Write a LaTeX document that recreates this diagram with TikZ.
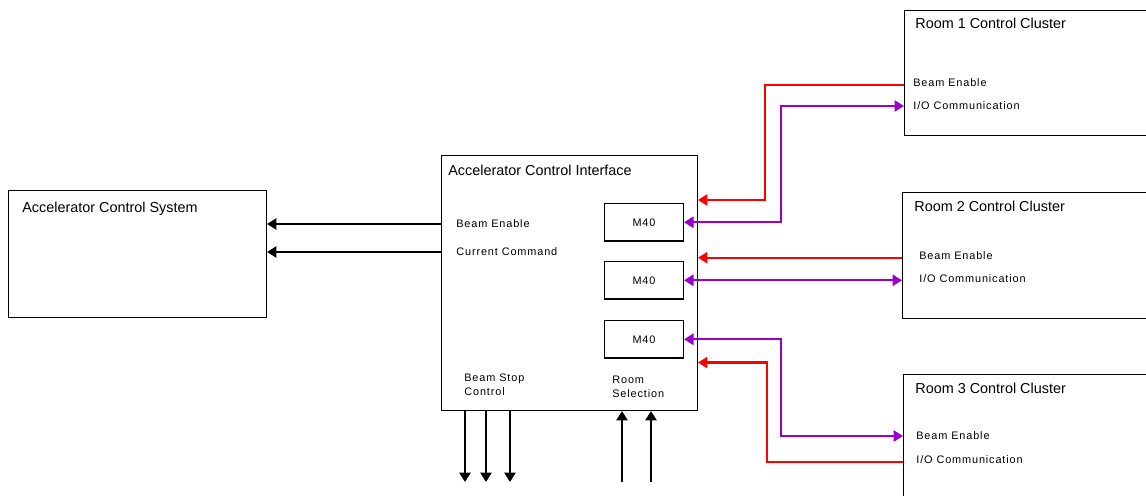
\documentclass[tikz,border=0pt]{standalone}
\usepackage{fontspec}
\setmainfont{Liberation Sans}
\newfontfamily\lblfont[LetterSpace=8]{Liberation Sans}
\usetikzlibrary{arrows.meta, positioning, calc}
\definecolor{cLine}{HTML}{000000}
\definecolor{cRed}{HTML}{FF0000}
\definecolor{cPurple}{HTML}{9900CC}

\begin{document}
\begin{tikzpicture}[
  x=0.02cm, y=-0.02cm,
  blk/.style={draw=cLine, line width=0.6pt, anchor=north west, inner sep=0pt},
  m40/.style={draw=cLine, line width=0.6pt, anchor=north west,
    minimum width=1.58cm, minimum height=0.75cm, inner sep=0pt,
    font=\lblfont\fontsize{6.2}{7.8}\selectfont},
  ttl/.style={anchor=base west, inner sep=0pt, font=\fontsize{8.2}{10}\selectfont},
  lbl/.style={anchor=west, inner sep=0pt, font=\lblfont\fontsize{6.2}{7.8}\selectfont},
  sig/.style={draw=cLine, line width=1.25pt, -{Triangle[length=5.4pt,width=6.4pt]}},
  bisig/.style={line width=1.25pt,
    {Triangle[length=5.4pt,width=6.4pt]}-{Triangle[length=5.4pt,width=6.4pt]}}
]
  \useasboundingbox (0,0) rectangle (1146,496);

  % main blocks
  \node[blk, minimum width=5.16cm, minimum height=2.54cm] (acs) at (8,190) {};
  \node[ttl] (acsT) at ([shift={(14,23)}]acs.north west) {Accelerator Control System};

  \node[blk, minimum width=5.12cm, minimum height=5.10cm] (aci) at (441,155) {};
  \node[ttl] (aciT) at ([shift={(7,21)}]aci.north west) {Accelerator Control Interface};

  \node[m40] (m1) at (604,203) {M40};
  \node[m40] (m2) at (604,261) {M40};
  \node[m40] (m3) at (604,320) {M40};

  \node[blk, minimum width=5.4cm, minimum height=2.5cm] (room1) at (904,10) {};
  \node[ttl] (room1T) at ([shift={(11,19)}]room1.north west) {Room 1 Control Cluster};
  \node[blk, minimum width=5.4cm, minimum height=2.52cm] (room2) at (902,192) {};
  \node[ttl] (room2T) at ([shift={(12,20)}]room2.north west) {Room 2 Control Cluster};
  \node[blk, minimum width=5.4cm, minimum height=2.7cm] (room3) at (903,374) {};
  \node[ttl] (room3T) at ([shift={(12,20)}]room3.north west) {Room 3 Control Cluster};

  % signal labels
  \node[lbl] (beOut) at (456,224) {Beam Enable};
  \node[lbl] (ccOut) at (456,252) {Current Command};
  \node[lbl, anchor=north west, align=left] (bsLbl) at (464,374) {Beam Stop\\Control};
  \node[lbl, anchor=north west, align=left] (rsLbl) at (612,376) {Room\\Selection};

  \node[lbl] (r1be) at (913,83) {Beam Enable};
  \node[lbl] (r1io) at (913,106) {I/O Communication};
  \node[lbl] (r2be) at (919,256) {Beam Enable};
  \node[lbl] (r2io) at (919,279) {I/O Communication};
  \node[lbl] (r3be) at (916,436) {Beam Enable};
  \node[lbl] (r3io) at (916,460) {I/O Communication};

  % to the accelerator control system
  \draw[sig] (aci.west |- beOut) -- (acs.east |- beOut);
  \draw[sig] (aci.west |- ccOut) -- (acs.east |- ccOut);

  % room 1
  \draw[sig, cRed] ([yshift=-1pt]room1.west |- r1be) -- ++(-139,0)
    |- ($(aci.east |- m1.north)+(0,-3)$);
  \draw[bisig, cPurple] (m1.east) -- ++(97,0) |- (room1.west |- r1io);

  % room 2
  \draw[sig, cRed] ([yshift=-1pt]room2.west |- r2be) -- ([yshift=-1pt]aci.east |- r2be);
  \draw[bisig, cPurple] (m2.east) -- (room2.west |- m2.east);

  % room 3
  \draw[bisig, cPurple] (m3.east) -- ++(97,0) |- (room3.west |- r3be);
  \draw[sig, cRed] ([yshift=-1pt]room3.west |- r3io) -- ++(-136,0)
    |- ($(aci.east |- m3.south)+(0,4)$);

  % beam stop and room selection lines
  \foreach \x/\n in {465/1, 486/2, 510/3} {
    \coordinate (bs\n) at (\x,482);
    \draw[sig] (aci.south -| bs\n) -- (bs\n);
  }
  \foreach \x/\n in {622/1, 651/2} {
    \coordinate (rs\n) at (\x,482);
    \draw[sig] (rs\n) -- (aci.south -| rs\n);
  }
\end{tikzpicture}
\end{document}
